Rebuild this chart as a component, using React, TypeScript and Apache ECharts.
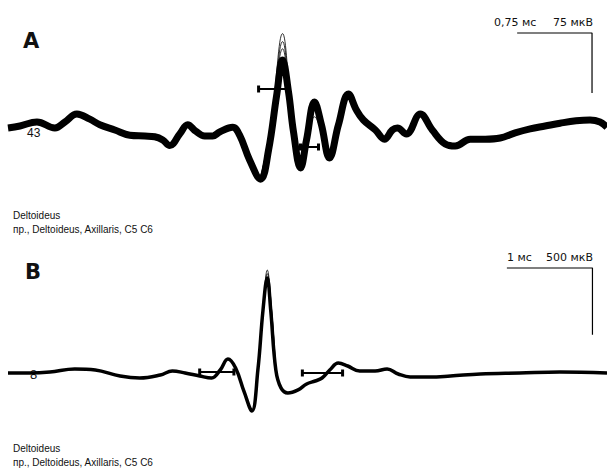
import { useEffect, useRef } from "react";
import * as echarts from "echarts";

// Panel A: time in ms, amplitude in µV
const traceA: [number, number][] = [
  [0, 0], [0.12, 2.5], [0.29, 7.5], [0.47, 0], [0.57, 7.5], [0.69, 17.5], [0.82, 11], [0.92, 4],
  [1.07, -2.5], [1.22, -9], [1.37, -10], [1.47, -11], [1.55, -15], [1.62, -22], [1.72, -7.5],
  [1.8, 4], [1.88, -4], [1.97, -10], [2.05, -10], [2.12, -5], [2.25, 1], [2.32, -9], [2.42, -40],
  [2.53, -64], [2.61, -27.5], [2.69, 40], [2.75, 85], [2.81, 45], [2.86, -5], [2.93, -50],
  [2.99, -15], [3.07, 32.5], [3.14, 4], [3.22, -37.5], [3.31, 4], [3.41, 42.5], [3.49, 22.5],
  [3.56, 10], [3.68, -2.5], [3.77, -14], [3.85, -2.5], [3.9, 0], [3.99, -7.5], [4.13, 17.5],
  [4.25, -2.5], [4.38, -20], [4.48, -22.5], [4.63, -14], [4.78, -14], [4.93, -12.5], [5.08, -6],
  [5.23, -1], [5.38, 2.5], [5.53, 6], [5.69, 9], [5.83, 10], [5.93, 7.5], [6.0, 1],
];
const spikeA1: [number, number][] = [[2.53, -66], [2.64, 10], [2.75, 118], [2.84, 20], [2.93, -52]];
const spikeA2: [number, number][] = [[2.53, -63], [2.64, 6], [2.75, 108], [2.84, 16], [2.93, -49]];
const spikeA3: [number, number][] = [[2.53, -61], [2.64, 3], [2.75, 99], [2.84, 12], [2.93, -47]];
const spikeA4: [number, number][] = [[2.93, -52], [3.0, -12], [3.07, 22], [3.14, 0], [3.22, -36]];
const spikeA5: [number, number][] = [[2.93, -48], [3.0, -14], [3.07, 14], [3.14, -4], [3.22, -34]];
const markerA1: [number, number][] = [[2.51, 48.75], [2.8, 48.75]];
const markerA2: [number, number][] = [[2.93, -23.75], [3.11, -23.75]];
const scaleBarA: [number, number][] = [[5.1, 118.75], [5.85, 118.75], [5.85, 43.75]];

// Panel B
const traceB: [number, number][] = [
  [0, 0], [0.26, 0], [0.49, 7.5], [0.78, 30], [1.02, 22.5], [1.31, -22.5], [1.54, -37.5],
  [1.78, -15], [1.92, 15], [2.07, 0], [2.24, -22.5], [2.38, -37.5], [2.48, 22.5], [2.57, 105],
  [2.66, 37.5], [2.76, -142], [2.85, -285], [2.92, 22.5], [2.98, 472], [3.03, 712], [3.07, 472],
  [3.13, 22.5], [3.19, -112], [3.27, -150], [3.39, -127], [3.49, -82], [3.59, -60], [3.67, -37.5],
  [3.76, 22.5], [3.86, 75], [3.97, 52.5], [4.11, 15], [4.29, 15], [4.43, 30], [4.56, -7.5],
  [4.7, -30], [4.93, -30], [5.17, -22.5], [5.52, -7.5], [5.98, 0], [6.45, 7.5], [7.0, 0],
];
const spikeB1: [number, number][] = [[2.92, 22.5], [2.98, 480], [3.03, 772], [3.08, 480], [3.13, 22.5]];
const spikeB2: [number, number][] = [[2.92, 22.5], [2.98, 476], [3.03, 745], [3.08, 476], [3.13, 22.5]];
const markerB1: [number, number][] = [[2.24, 7.5], [2.64, 7.5]];
const markerB2: [number, number][] = [[3.44, 0], [3.91, 0]];
const scaleBarB: [number, number][] = [[5.83, 787.5], [6.83, 787.5], [6.83, 287.5]];

const lineS = (data: [number, number][], idx: number, width: number, smooth: number | boolean = 0.4) => ({
  type: "line",
  xAxisIndex: idx,
  yAxisIndex: idx,
  data,
  smooth,
  symbol: "none",
  lineStyle: { color: "#000", width },
  silent: true,
});

const markerS = (data: [number, number][], idx: number) => ({
  type: "line",
  xAxisIndex: idx,
  yAxisIndex: idx,
  data,
  symbol: "rect",
  symbolSize: [3, 7],
  showSymbol: true,
  itemStyle: { color: "#000" },
  lineStyle: { color: "#000", width: 2 },
  z: 5,
  silent: true,
});

const barS = (data: [number, number][], idx: number) => ({
  type: "line",
  xAxisIndex: idx,
  yAxisIndex: idx,
  data,
  symbol: "none",
  lineStyle: { color: "#000", width: 1.2 },
  silent: true,
});

const txt = (text: string, x: number, y: number, font: string, align = "left") => ({
  type: "text",
  x,
  y,
  style: { text, font, fill: "#111", align, verticalAlign: "middle" },
  silent: true,
});

export default function App() {
  const ref = useRef<HTMLDivElement>(null);
  useEffect(() => {
    if (!ref.current) return;
    const chart = echarts.init(ref.current, null, { renderer: "svg" });
    const small = "10px 'Liberation Sans', Arial, sans-serif";
    const scaleFont = "11px 'DejaVu Sans', Verdana, sans-serif";
    const big = "bold 21px 'DejaVu Sans', Verdana, sans-serif";
    chart.setOption({
      animation: false,
      backgroundColor: "#fff",
      grid: [
        { left: 8, right: 0, top: 28, height: 200, show: false },
        { left: 8, right: 0, top: 253, height: 200, show: false },
      ],
      xAxis: [
        { type: "value", gridIndex: 0, min: 0, max: 6, show: false },
        { type: "value", gridIndex: 1, min: 0, max: 7, show: false },
      ],
      yAxis: [
        { type: "value", gridIndex: 0, min: -125, max: 125, show: false },
        { type: "value", gridIndex: 1, min: -600, max: 900, show: false },
      ],
      series: [
        lineS(traceA, 0, 7),
        lineS(spikeA1, 0, 0.8),
        lineS(spikeA2, 0, 0.8),
        lineS(spikeA3, 0, 0.8),
        lineS(spikeA4, 0, 0.8),
        lineS(spikeA5, 0, 0.8),
        markerS(markerA1, 0),
        markerS(markerA2, 0),
        barS(scaleBarA, 0),
        lineS(traceB, 1, 3.5),
        lineS(spikeB1, 1, 0.8),
        lineS(spikeB2, 1, 0.8),
        markerS(markerB1, 1),
        markerS(markerB2, 1),
        barS(scaleBarB, 1),
      ],
      graphic: [
        txt("A", 23, 41, big),
        txt("43", 27, 133, "12px 'Liberation Sans', Arial, sans-serif"),
        txt("0,75 мс", 494, 22, scaleFont),
        txt("75 мкВ", 593, 22, scaleFont, "right"),
        txt("Deltoideus", 13, 215, small),
        txt("пр., Deltoideus, Axillaris, C5 C6", 13, 229, small),
        txt("B", 25, 272, big),
        txt("8", 30, 374, "13px 'Liberation Sans', Arial, sans-serif"),
        txt("1 мс", 507, 257, scaleFont),
        txt("500 мкВ", 593, 257, scaleFont, "right"),
        txt("Deltoideus", 13, 448, small),
        txt("пр., Deltoideus, Axillaris, C5 C6", 13, 462, small),
      ],
    });
    return () => chart.dispose();
  }, []);
  return (
    <div
      ref={ref}
      style={{ position: "absolute", left: 0, top: 0, width: 607, height: 468 }}
    />
  );
}
